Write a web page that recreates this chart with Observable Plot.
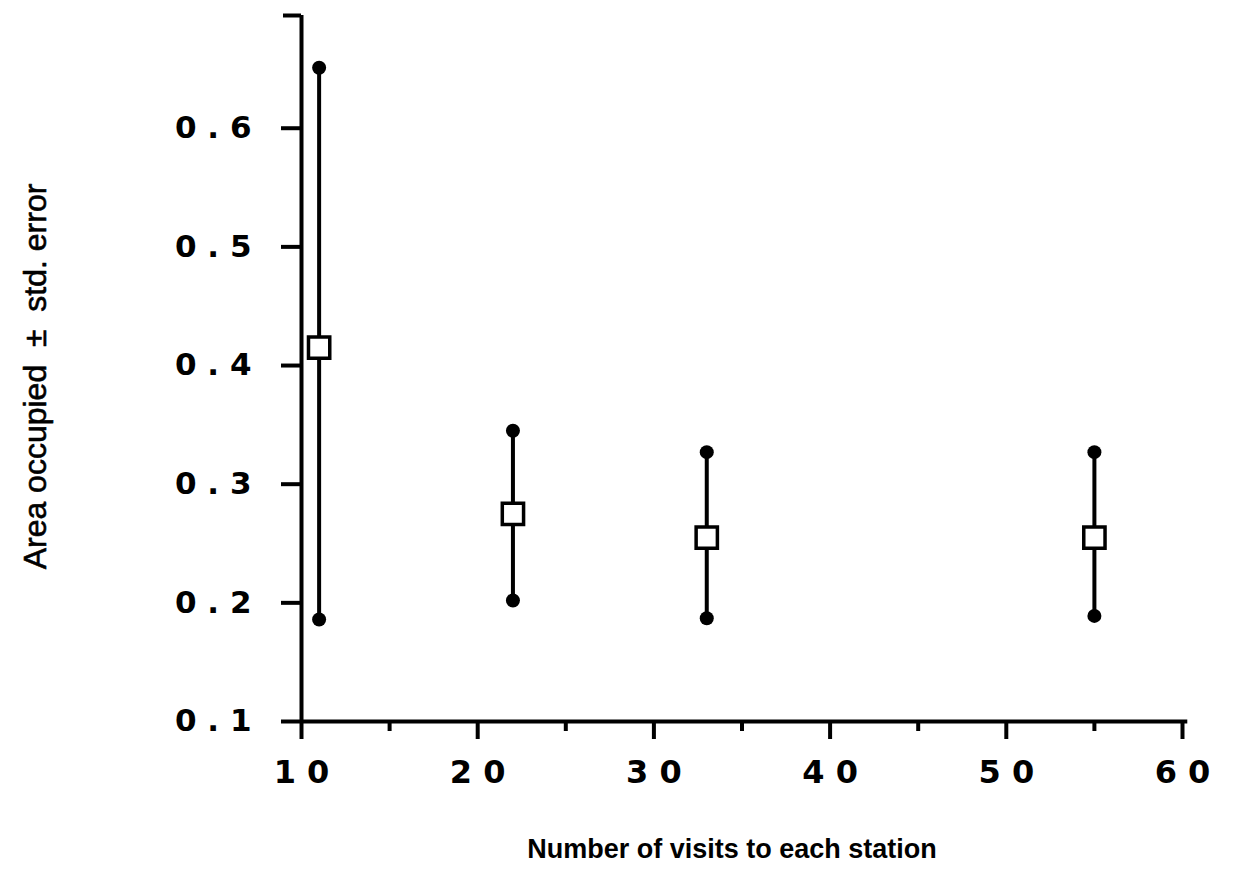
<!DOCTYPE html>
<html><head><meta charset="utf-8">
<script src="https://cdn.jsdelivr.net/npm/d3@7"></script>
<script src="https://cdn.jsdelivr.net/npm/@observablehq/plot@0.6"></script>
<style>
body{margin:0;background:#fff}
#chart svg{font-family:"Liberation Sans",Arial,sans-serif;background:#fff}
</style>
</head><body><div id="chart"></div>
<script>
// Data
const visits   = [11, 22, 33, 55];
const meanArea = [0.415, 0.275, 0.255, 0.255];
const upperSE  = [0.651, 0.345, 0.327, 0.327];
const lowerSE  = [0.186, 0.202, 0.187, 0.189];

const xTicks      = [10, 20, 30, 40, 50, 60];
const xMinorTicks = [15, 25, 35, 45, 55];
const yTicks      = [0.1, 0.2, 0.3, 0.4, 0.5, 0.6];
const xDomain = [10, 60];
const yDomain = [0.1, 0.695];

const xLabel = "Number of visits to each station";
const yLabel = "Area occupied  ±  std. error";

const rows = visits.map((v, i) => ({visits: v, mean: meanArea[i], hi: upperSE[i], lo: lowerSE[i]}));
const spaced = d => String(d).split("").join(" ");
const tickFont = "DejaVu Sans";

const chart = Plot.plot({
  width: 1241,
  height: 896,
  marginLeft: 301,
  marginRight: 59,
  marginTop: 15,
  marginBottom: 175,
  x: {domain: xDomain},
  y: {domain: yDomain},
  marks: [
    // axis lines
    Plot.ruleX([xDomain[0]], {y1: yDomain[0], y2: yDomain[1], strokeWidth: 4, stroke: "black"}),
    Plot.ruleY([yDomain[0]], {x1: xDomain[0], x2: xDomain[1] + 0.3, strokeWidth: 4, stroke: "black"}),
    // y axis ticks + labels
    Plot.axisY({ticks: yTicks, tickSize: 20, tickPadding: 30, strokeWidth: 4,
      tickFormat: d => spaced(d.toFixed(1)), fontSize: 31, fontWeight: "bold", fontFamily: tickFont, label: null}),
    Plot.axisY({ticks: [yDomain[1]], tickSize: 18, strokeWidth: 4, tickFormat: () => "", label: null}),
    // x axis ticks + labels
    Plot.axisX({ticks: xTicks, tickSize: 18, tickPadding: 21, strokeWidth: 4,
      tickFormat: spaced, fontSize: 32, fontWeight: "bold", fontFamily: tickFont, label: null}),
    Plot.axisX({ticks: xMinorTicks, tickSize: 10, strokeWidth: 4, tickFormat: () => "", label: null}),
    // error bars
    Plot.ruleX(rows, {x: "visits", y1: "lo", y2: "hi", strokeWidth: 4, stroke: "black"}),
    Plot.dot(rows, {x: "visits", y: "hi", r: 7, fill: "black"}),
    Plot.dot(rows, {x: "visits", y: "lo", r: 7, fill: "black"}),
    Plot.dot(rows, {x: "visits", y: "mean", symbol: "square", r: 12, fill: "white", stroke: "black", strokeWidth: 3.5}),
    // axis titles
    Plot.text([yLabel], {frameAnchor: "left", textAnchor: "middle", dx: -266, dy: 8, rotate: -90,
      fontSize: 32, fill: "black", stroke: "black", strokeWidth: 0.6, style: {letterSpacing: "2.5px"}}),
    Plot.text([xLabel], {frameAnchor: "bottom", dx: -10, dy: 136, fontSize: 27, fontWeight: "bold", fill: "black"})
  ]
});
document.getElementById("chart").append(chart);
</script>
</body></html>
